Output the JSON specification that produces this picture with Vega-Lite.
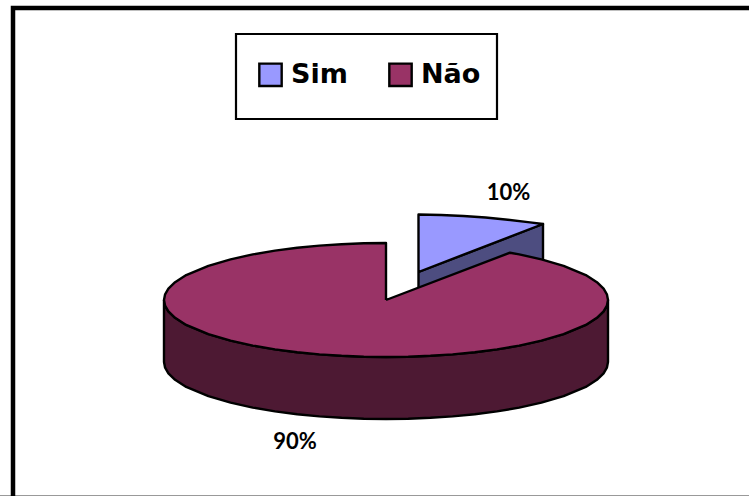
{"$schema":"https://vega.github.io/schema/vega-lite/v6.json","width":749,"height":496,"padding":0,"autosize":"none","background":"white","view":{"stroke":null},
"datasets":{
"faces":[
{"parte":"Sim lateral","o":1,"x":418.5,"y":272},{"parte":"Sim lateral","o":2,"x":543,"y":224},{"parte":"Sim lateral","o":3,"x":543,"y":270},{"parte":"Sim lateral","o":4,"x":418.5,"y":318},{"parte":"Sim lateral","o":5,"x":418.5,"y":272},
{"parte":"Sim","o":1,"x":418.5,"y":272},{"parte":"Sim","o":2,"x":418.5,"y":214.5},{"parte":"Sim","o":3,"x":441.2,"y":215},{"parte":"Sim","o":4,"x":463.4,"y":216},{"parte":"Sim","o":5,"x":485.6,"y":217.5},{"parte":"Sim","o":6,"x":507.8,"y":219.7},{"parte":"Sim","o":7,"x":530,"y":222.4},{"parte":"Sim","o":8,"x":543,"y":224},{"parte":"Sim","o":9,"x":418.5,"y":272},
{"parte":"Não lateral","o":1,"x":164,"y":300},{"parte":"Não lateral","o":1.5,"x":165.1,"y":305.7},{"parte":"Não lateral","o":2,"x":168.4,"y":311.3},{"parte":"Não lateral","o":3,"x":175.1,"y":317.8},{"parte":"Não lateral","o":4,"x":186.2,"y":324.9},{"parte":"Não lateral","o":5,"x":208.4,"y":334.2},{"parte":"Não lateral","o":6,"x":230.6,"y":340.7},{"parte":"Não lateral","o":7,"x":252.8,"y":345.6},{"parte":"Não lateral","o":8,"x":275,"y":349.4},{"parte":"Não lateral","o":9,"x":297.2,"y":352.3},{"parte":"Não lateral","o":10,"x":319.4,"y":354.4},{"parte":"Não lateral","o":11,"x":341.6,"y":355.8},{"parte":"Não lateral","o":12,"x":363.8,"y":356.7},{"parte":"Não lateral","o":13,"x":386,"y":357},{"parte":"Não lateral","o":14,"x":408.2,"y":356.7},{"parte":"Não lateral","o":15,"x":430.4,"y":355.8},{"parte":"Não lateral","o":16,"x":452.6,"y":354.4},{"parte":"Não lateral","o":17,"x":474.8,"y":352.3},{"parte":"Não lateral","o":18,"x":497,"y":349.4},{"parte":"Não lateral","o":19,"x":519.2,"y":345.6},{"parte":"Não lateral","o":20,"x":541.4,"y":340.7},{"parte":"Não lateral","o":21,"x":563.6,"y":334.2},{"parte":"Não lateral","o":22,"x":585.8,"y":324.9},{"parte":"Não lateral","o":23,"x":596.9,"y":317.8},{"parte":"Não lateral","o":24,"x":603.6,"y":311.3},{"parte":"Não lateral","o":24.5,"x":606.9,"y":305.7},{"parte":"Não lateral","o":25,"x":608,"y":300},
{"parte":"Não lateral","o":26,"x":608,"y":362},{"parte":"Não lateral","o":26.5,"x":606.9,"y":367.7},{"parte":"Não lateral","o":27,"x":603.6,"y":373.3},{"parte":"Não lateral","o":28,"x":596.9,"y":379.8},{"parte":"Não lateral","o":29,"x":585.8,"y":386.9},{"parte":"Não lateral","o":30,"x":563.6,"y":396.2},{"parte":"Não lateral","o":31,"x":541.4,"y":402.7},{"parte":"Não lateral","o":32,"x":519.2,"y":407.6},{"parte":"Não lateral","o":33,"x":497,"y":411.4},{"parte":"Não lateral","o":34,"x":474.8,"y":414.3},{"parte":"Não lateral","o":35,"x":452.6,"y":416.4},{"parte":"Não lateral","o":36,"x":430.4,"y":417.8},{"parte":"Não lateral","o":37,"x":408.2,"y":418.7},{"parte":"Não lateral","o":38,"x":386,"y":419},{"parte":"Não lateral","o":39,"x":363.8,"y":418.7},{"parte":"Não lateral","o":40,"x":341.6,"y":417.8},{"parte":"Não lateral","o":41,"x":319.4,"y":416.4},{"parte":"Não lateral","o":42,"x":297.2,"y":414.3},{"parte":"Não lateral","o":43,"x":275,"y":411.4},{"parte":"Não lateral","o":44,"x":252.8,"y":407.6},{"parte":"Não lateral","o":45,"x":230.6,"y":402.7},{"parte":"Não lateral","o":46,"x":208.4,"y":396.2},{"parte":"Não lateral","o":47,"x":186.2,"y":386.9},{"parte":"Não lateral","o":48,"x":175.1,"y":379.8},{"parte":"Não lateral","o":49,"x":168.4,"y":373.3},{"parte":"Não lateral","o":49.5,"x":165.1,"y":367.7},{"parte":"Não lateral","o":50,"x":164,"y":362},{"parte":"Não lateral","o":51,"x":164,"y":300},
{"parte":"Não","o":1,"x":386,"y":300},{"parte":"Não","o":2,"x":386,"y":243},{"parte":"Não","o":3,"x":363.8,"y":243.3},{"parte":"Não","o":4,"x":341.6,"y":244.2},{"parte":"Não","o":5,"x":319.4,"y":245.6},{"parte":"Não","o":6,"x":297.2,"y":247.7},{"parte":"Não","o":7,"x":275,"y":250.6},{"parte":"Não","o":8,"x":252.8,"y":254.4},{"parte":"Não","o":9,"x":230.6,"y":259.3},{"parte":"Não","o":10,"x":208.4,"y":265.8},{"parte":"Não","o":11,"x":186.2,"y":275.1},{"parte":"Não","o":12,"x":175.1,"y":282.2},{"parte":"Não","o":13,"x":168.4,"y":288.7},{"parte":"Não","o":13.5,"x":165.1,"y":294.3},{"parte":"Não","o":14,"x":164,"y":300},{"parte":"Não","o":14.5,"x":165.1,"y":305.7},{"parte":"Não","o":15,"x":168.4,"y":311.3},{"parte":"Não","o":16,"x":175.1,"y":317.8},{"parte":"Não","o":17,"x":186.2,"y":324.9},{"parte":"Não","o":18,"x":208.4,"y":334.2},{"parte":"Não","o":19,"x":230.6,"y":340.7},{"parte":"Não","o":20,"x":252.8,"y":345.6},{"parte":"Não","o":21,"x":275,"y":349.4},{"parte":"Não","o":22,"x":297.2,"y":352.3},{"parte":"Não","o":23,"x":319.4,"y":354.4},{"parte":"Não","o":24,"x":341.6,"y":355.8},{"parte":"Não","o":25,"x":363.8,"y":356.7},{"parte":"Não","o":26,"x":386,"y":357},{"parte":"Não","o":27,"x":408.2,"y":356.7},{"parte":"Não","o":28,"x":430.4,"y":355.8},{"parte":"Não","o":29,"x":452.6,"y":354.4},{"parte":"Não","o":30,"x":474.8,"y":352.3},{"parte":"Não","o":31,"x":497,"y":349.4},{"parte":"Não","o":32,"x":519.2,"y":345.6},{"parte":"Não","o":33,"x":541.4,"y":340.7},{"parte":"Não","o":34,"x":563.6,"y":334.2},{"parte":"Não","o":35,"x":585.8,"y":324.9},{"parte":"Não","o":36,"x":596.9,"y":317.8},{"parte":"Não","o":37,"x":603.6,"y":311.3},{"parte":"Não","o":37.5,"x":606.9,"y":305.7},{"parte":"Não","o":38,"x":608,"y":300},{"parte":"Não","o":38.5,"x":606.9,"y":294.3},{"parte":"Não","o":39,"x":603.6,"y":288.7},{"parte":"Não","o":40,"x":596.9,"y":282.2},{"parte":"Não","o":41,"x":585.8,"y":275.1},{"parte":"Não","o":42,"x":563.6,"y":265.8},{"parte":"Não","o":43,"x":541.4,"y":259.3},{"parte":"Não","o":44,"x":519.2,"y":254.4},{"parte":"Não","o":45,"x":510,"y":252.7},{"parte":"Não","o":46,"x":386,"y":300}
],
"frame":[{"s":"a","o":1,"x":13,"y":496},{"s":"a","o":2,"x":13,"y":8},{"s":"a","o":3,"x":749,"y":8}],
"edge":[{"o":1,"x":0,"y":495.5},{"o":2,"x":749,"y":495.5}],
"box":[{"x":236,"x2":497,"y":34,"y2":119}],
"labels":[{"label":"10%","x":508.5,"y":193},{"label":"90%","x":295,"y":442}]
},
"encoding":{"x":{"field":"x","type":"quantitative","scale":{"domain":[0,749],"nice":false,"zero":false},"axis":null},"y":{"field":"y","type":"quantitative","scale":{"domain":[496,0],"nice":false,"zero":false},"axis":null}},
"layer":[
{"data":{"name":"edge"},"mark":{"type":"line","stroke":"#999999","strokeWidth":1,"clip":false},"encoding":{"order":{"field":"o"}}},
{"data":{"name":"frame"},"mark":{"type":"line","stroke":"black","strokeWidth":4.5,"strokeJoin":"miter","clip":false},"encoding":{"order":{"field":"o"}}},
{"data":{"name":"box"},"mark":{"type":"rect","fill":"white","stroke":"black","strokeWidth":2.2},
 "encoding":{"x2":{"field":"x2"},"y2":{"field":"y2"}}},
{"data":{"name":"faces"},"mark":{"type":"line","stroke":"black","strokeWidth":2.4,"strokeJoin":"round"},
 "encoding":{"order":{"field":"o"},
  "fill":{"field":"parte","type":"nominal","scale":{"domain":["Sim","Não","Sim lateral","Não lateral"],"range":["#9999ff","#993366","#4d4d80","#4d1933"]},
   "legend":{"values":["Sim","Não"],"title":null,"orient":"none","legendX":257,"legendY":61,"direction":"horizontal","columns":2,"columnPadding":36,"symbolType":"square","symbolSize":500,"symbolStrokeColor":"black","symbolStrokeWidth":2.4,"symbolOpacity":1,"labelFont":"DejaVu Sans","labelFontWeight":"bold","labelFontSize":27,"labelColor":"black","labelOffset":7,"labelLimit":0,"padding":0,"zindex":1}}}},
{"data":{"name":"labels"},"mark":{"type":"text","font":"Lato","fontWeight":"bold","fontSize":22,"color":"black"},
 "encoding":{"text":{"field":"label"}}}
]}
